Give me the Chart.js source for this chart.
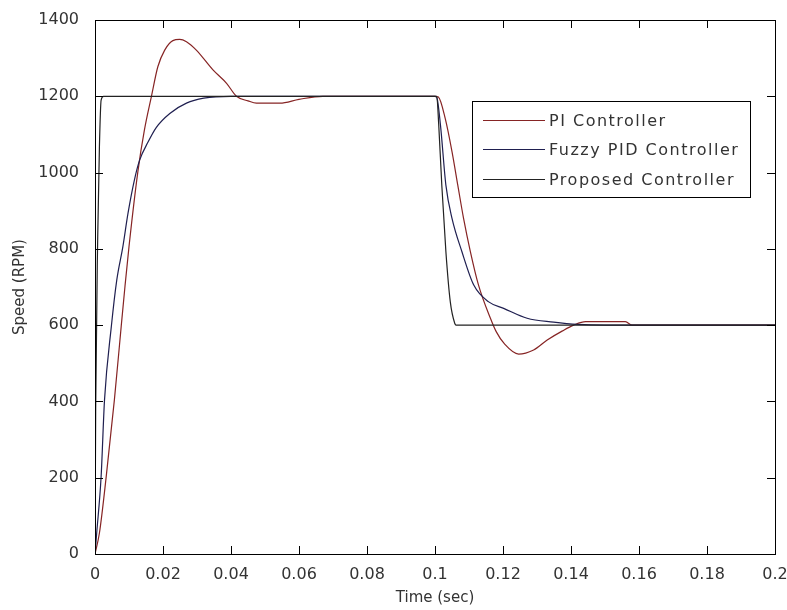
<!DOCTYPE html>
<html>
<head>
<meta charset="utf-8">
<script src="https://cdn.jsdelivr.net/npm/chart.js@4.4.0/dist/chart.umd.min.js"></script>
<style>
  body { margin: 0; background: #fff; }
  canvas { display: block; }
</style>
</head>
<body>
<canvas id="speedChart" width="787" height="610"></canvas>
<script>
// tick labels
const xTicks = [0, 0.02, 0.04, 0.06, 0.08, 0.1, 0.12, 0.14, 0.16, 0.18, 0.2];
const xTickLabels = ['0', '0.02', '0.04', '0.06', '0.08', '0.1', '0.12', '0.14', '0.16', '0.18', '0.2'];
const yTicks = [0, 200, 400, 600, 800, 1000, 1200, 1400];
const yTickLabels = ['0', '200', '400', '600', '800', '1000', '1200', '1400'];

const seriesNames = ['PI Controller', 'Fuzzy PID Controller', 'Proposed Controller'];

// PI controller response
const piTime = [0, 0.0013, 0.0033, 0.0057, 0.0077, 0.0088, 0.0100, 0.0126, 0.0145, 0.0166, 0.0185, 0.0205, 0.0229, 0.0249,
    0.0269, 0.0298, 0.0347, 0.0387, 0.0416, 0.045, 0.0475, 0.0544, 0.06, 0.067, 0.1, 0.101, 0.103, 0.105, 0.1067,
    0.1084, 0.1104, 0.1128, 0.1163, 0.118, 0.1205, 0.1246, 0.129, 0.133, 0.1375, 0.1408, 0.1443, 0.156, 0.158, 0.2];
const piSpeed = [0, 55, 203, 404, 596, 700, 806, 1002, 1110, 1200, 1278, 1321, 1346, 1349,
    1343, 1321, 1269, 1234, 1200, 1188, 1182, 1182, 1192, 1200, 1200, 1198, 1142, 1055, 967,
    880, 793, 705, 618, 583, 550, 524, 535, 561, 585, 600, 609, 609, 600, 600];

// Fuzzy PID controller response
const fuzzyTime = [0, 0.0005, 0.0018, 0.0028, 0.0048, 0.0064, 0.0082, 0.0097, 0.0116, 0.0131, 0.0156, 0.018, 0.022,
    0.0269, 0.032, 0.04, 0.1, 0.1005, 0.1016, 0.1032, 0.105, 0.1079, 0.1114, 0.1158, 0.1202, 0.1271, 0.1349, 0.142, 0.15, 0.2];
const fuzzySpeed = [0, 55, 203, 404, 596, 718, 806, 893, 981, 1032, 1080, 1118, 1155,
    1182, 1195, 1200, 1200, 1198, 1125, 967, 880, 793, 705, 661, 644, 618, 608, 602, 600, 600];

// Proposed controller response
const propTime = [0, 0.0002, 0.0008, 0.0013, 0.0018, 0.0025, 0.1, 0.1005, 0.1011, 0.102, 0.1032, 0.1045, 0.1058, 0.1062, 0.2];
const propSpeed = [0, 380, 832, 1068, 1190, 1200, 1200, 1200, 1125, 967, 793, 661, 605, 600, 600];

const colors = ['#862424', '#1f1f50', '#222222'];

function toPoints(t, v) {
    return t.map((x, i) => ({ x: x, y: v[i] }));
}

const textColor = '#333';
const fontFamily = '"DejaVu Sans", sans-serif';

// box around the plot with inward tick marks, MATLAB style
const framePlugin = {
    id: 'frame',
    afterDatasetsDraw(chart) {
        const { ctx, chartArea: a, scales } = chart;
        ctx.save();
        ctx.strokeStyle = '#000';
        ctx.lineWidth = 1;
        ctx.strokeRect(Math.round(a.left) + 0.5, Math.round(a.top) + 0.5,
            Math.round(a.right - a.left), Math.round(a.bottom - a.top));
        const len = 8;
        ctx.beginPath();
        xTicks.forEach(v => {
            const px = Math.round(scales.x.getPixelForValue(v)) + 0.5;
            ctx.moveTo(px, a.bottom); ctx.lineTo(px, a.bottom - len);
            ctx.moveTo(px, a.top); ctx.lineTo(px, a.top + len);
        });
        yTicks.forEach(v => {
            const py = Math.round(scales.y.getPixelForValue(v)) + 0.5;
            ctx.moveTo(a.left, py); ctx.lineTo(a.left + len, py);
            ctx.moveTo(a.right, py); ctx.lineTo(a.right - len, py);
        });
        ctx.stroke();

        // legend box
        const bx = 472.5, by = 101.5, bw = 278, bh = 96;
        ctx.fillStyle = '#fff';
        ctx.fillRect(bx, by, bw, bh);
        ctx.strokeRect(bx, by, bw, bh);
        ctx.font = '16px ' + fontFamily;
        ctx.letterSpacing = '1.5px';
        ctx.textBaseline = 'middle';
        chart.data.datasets.forEach((ds, i) => {
            const ry = Math.round(120 + i * 29.3) + 0.5;
            ctx.strokeStyle = ds.borderColor;
            ctx.beginPath();
            ctx.moveTo(483, ry); ctx.lineTo(545, ry);
            ctx.stroke();
            ctx.fillStyle = textColor;
            ctx.fillText(ds.label, 549, ry + 1);
        });
        ctx.restore();
    }
};

const chart = new Chart(document.getElementById('speedChart').getContext('2d'), {
    type: 'line',
    data: {
        datasets: [
            { label: seriesNames[0], data: toPoints(piTime, piSpeed), borderColor: colors[0], order: 3 },
            { label: seriesNames[1], data: toPoints(fuzzyTime, fuzzySpeed), borderColor: colors[1], order: 2 },
            { label: seriesNames[2], data: toPoints(propTime, propSpeed), borderColor: colors[2], order: 1 }
        ]
    },
    options: {
        responsive: false,
        animation: false,
        devicePixelRatio: 1,
        layout: { padding: { top: 20, right: 12, left: 0, bottom: 0 } },
        elements: {
            point: { radius: 0 },
            line: { borderWidth: 1.2, cubicInterpolationMode: 'monotone', fill: false }
        },
        plugins: {
            legend: { display: false },
            tooltip: { enabled: false }
        },
        scales: {
            x: {
                type: 'linear',
                min: 0,
                max: 0.2,
                grid: { display: false },
                border: { display: false },
                afterBuildTicks: s => { s.ticks = xTicks.map(v => ({ value: v })); },
                afterFit: s => { s.height = 56; s.paddingLeft = 0; s.paddingRight = 0; },
                ticks: {
                    padding: 3,
                    maxRotation: 0,
                    color: textColor,
                    font: { family: fontFamily, size: 16 },
                    callback: (v, i) => xTickLabels[i]
                },
                title: {
                    display: true,
                    text: 'Time (sec)',
                    color: textColor,
                    font: { family: fontFamily, size: 15 },
                    padding: { top: 0, bottom: 3 }
                }
            },
            y: {
                min: 0,
                max: 1400,
                grid: { display: false },
                border: { display: false },
                afterBuildTicks: s => { s.ticks = yTicks.map(v => ({ value: v })); },
                afterFit: s => { s.width = 95; s.paddingTop = 0; s.paddingBottom = 0; },
                ticks: {
                    padding: 8,
                    color: textColor,
                    font: { family: fontFamily, size: 16 },
                    callback: (v, i) => yTickLabels[i]
                },
                title: {
                    display: true,
                    text: 'Speed (RPM)',
                    color: textColor,
                    font: { family: fontFamily, size: 15 },
                    padding: { top: 11, bottom: 0 }
                }
            }
        }
    },
    plugins: [framePlugin]
});
</script>
</body>
</html>
